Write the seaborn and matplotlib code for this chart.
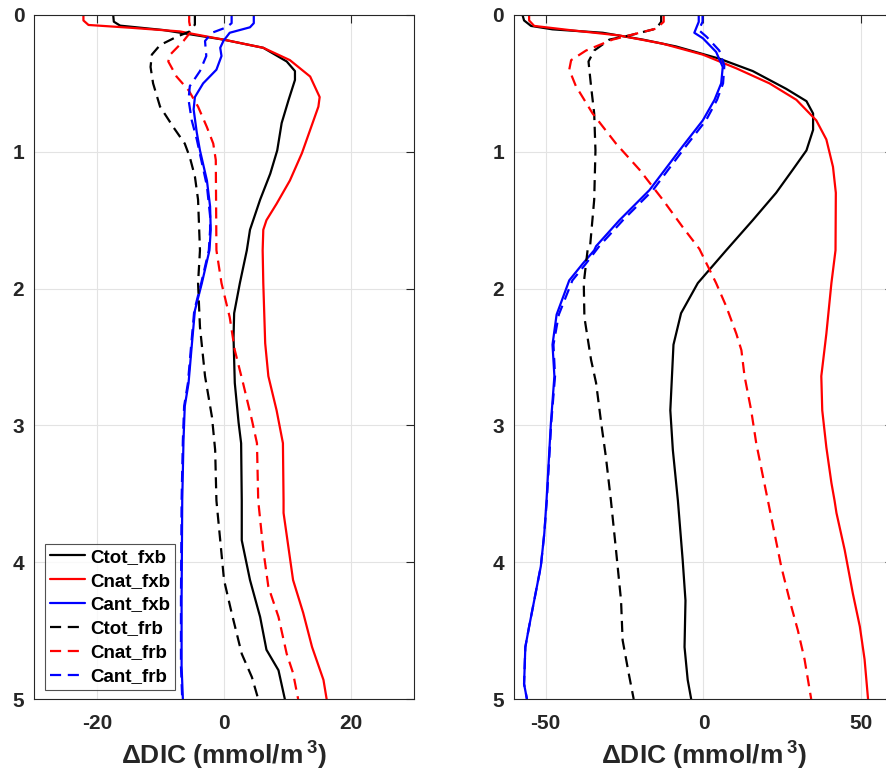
import matplotlib
matplotlib.use("Agg")
import matplotlib.pyplot as plt
import seaborn as sns
import pandas as pd

# ---------------- data (depth, ΔDIC in mmol/m^3) ----------------
series_names = ["Ctot_fxb", "Cnat_fxb", "Cant_fxb", "Ctot_frb", "Cnat_frb", "Cant_frb"]

# Left panel
L_ctot_fxb_x = [-17.5, -17.4, -16.4, -9.6, -0.1, 6.2, 9.9, 11.2, 11.2, 10.2, 9.1, 8.4, 7.3, 5.7, 4.1, 3.6, 2.5, 1.6, 1.5, 1.7, 2.3, 2.7, 2.8, 2.8, 4.1, 5.7, 6.7, 8.6, 9.6]
L_ctot_fxb_d = [0, 0.049, 0.078, 0.11, 0.18, 0.24, 0.34, 0.41, 0.475, 0.62, 0.79, 0.99, 1.16, 1.35, 1.57, 1.72, 1.96, 2.18, 2.36, 2.69, 2.98, 3.13, 3.55, 3.84, 4.13, 4.40, 4.64, 4.79, 5.0]

L_cnat_fxb_x = [-22.2, -22.2, -21.4, -14.9, -7.0, -0.1, 6.2, 10.4, 13.6, 15.1, 14.9, 13.6, 12.3, 10.4, 8.3, 6.7, 6.2, 6.1, 6.2, 6.5, 7.0, 8.3, 9.3, 9.4, 9.4, 10.9, 12.5, 13.9, 15.7, 16.2]
L_cnat_fxb_d = [0, 0.04, 0.073, 0.093, 0.12, 0.18, 0.24, 0.33, 0.45, 0.60, 0.67, 0.84, 1.01, 1.21, 1.38, 1.50, 1.57, 1.72, 1.96, 2.40, 2.64, 2.89, 3.13, 3.55, 3.64, 4.13, 4.37, 4.62, 4.86, 5.0]

L_cant_fxb_x = [4.7, 4.7, 4.1, 0.9, -0.1, -0.6, -0.4, -1.2, -3.3, -4.6, -4.8, -4.3, -3.8, -2.7, -2.2, -2.1, -2.3, -3.5, -4.6, -5.1, -5.6, -6.2, -6.4, -6.6, -6.7, -6.7, -6.5]
L_cant_fxb_d = [0, 0.06, 0.09, 0.13, 0.19, 0.24, 0.30, 0.40, 0.50, 0.60, 0.69, 0.86, 0.99, 1.21, 1.40, 1.57, 1.72, 1.96, 2.16, 2.42, 2.69, 2.86, 3.11, 3.55, 4.28, 4.76, 5.0]

L_ctot_frb_x = [-4.6, -4.6, -5.4, -7.5, -10.1, -11.4, -11.6, -11.2, -10.1, -8.0, -6.2, -5.4, -4.6, -4.1, -3.8, -4.1, -3.8, -3.0, -1.9, -1.4, -1.2, -0.6, 0.0, 1.2, 2.8, 4.4, 5.4]
L_ctot_frb_d = [0, 0.07, 0.12, 0.16, 0.22, 0.29, 0.38, 0.50, 0.67, 0.82, 0.94, 1.04, 1.18, 1.35, 1.72, 1.96, 2.28, 2.64, 2.94, 3.18, 3.55, 3.84, 4.13, 4.37, 4.67, 4.84, 5.0]

L_cnat_frb_x = [-5.5, -5.5, -5.2, -6.4, -8.5, -8.8, -7.5, -5.6, -4.1, -2.7, -1.7, -1.3, -1.2, -0.4, 0.9, 1.7, 3.0, 4.4, 5.2, 5.4, 6.2, 7.0, 8.6, 9.9, 10.9, 11.7]
L_cnat_frb_d = [0, 0.05, 0.12, 0.19, 0.29, 0.34, 0.45, 0.55, 0.67, 0.82, 0.94, 1.06, 1.72, 1.96, 2.21, 2.45, 2.69, 2.96, 3.13, 3.55, 3.91, 4.18, 4.40, 4.67, 4.81, 5.0]

L_cant_frb_x = [1.2, 1.2, 0.4, -1.9, -3.0, -2.8, -3.8, -5.4, -5.6, -5.1, -4.3, -3.5, -2.7, -2.2, -2.2, -2.4, -3.6, -4.7, -5.2, -5.7, -6.3, -6.5, -6.7, -6.8, -6.8, -6.6]
L_cant_frb_d = [0, 0.06, 0.09, 0.13, 0.19, 0.30, 0.41, 0.52, 0.62, 0.77, 0.91, 1.08, 1.25, 1.47, 1.57, 1.72, 1.96, 2.16, 2.42, 2.69, 2.86, 3.11, 3.55, 4.28, 4.76, 5.0]

# Right panel
R_ctot_fxb_x = [-57.3, -56.8, -54.6, -47.8, -31.9, -19.2, -8.7, 5.1, 15.6, 26.2, 32.6, 34.7, 34.7, 32.6, 28.3, 23.0, 15.6, 7.2, -1.8, -7.1, -9.5, -10.5, -9.7, -8.1, -6.6, -5.7, -6.0, -5.0, -3.9]
R_ctot_fxb_d = [0, 0.04, 0.08, 0.105, 0.13, 0.18, 0.23, 0.32, 0.41, 0.54, 0.63, 0.72, 0.84, 0.99, 1.13, 1.30, 1.50, 1.72, 1.96, 2.18, 2.41, 2.89, 3.18, 3.55, 3.98, 4.28, 4.62, 4.86, 5.0]

R_cnat_fxb_x = [-55.2, -55.2, -53.6, -42.5, -26.6, -12.9, -0.2, 10.4, 20.9, 29.4, 35.7, 38.9, 41.0, 41.9, 41.8, 40.5, 38.9, 37.3, 37.6, 38.9, 40.5, 41.5, 42.1, 44.7, 47.3, 49.5, 51.0, 52.1]
R_cnat_fxb_d = [0, 0.04, 0.08, 0.11, 0.15, 0.21, 0.29, 0.39, 0.50, 0.62, 0.77, 0.91, 1.11, 1.30, 1.72, 1.96, 2.33, 2.64, 2.89, 3.16, 3.42, 3.55, 3.64, 3.91, 4.23, 4.47, 4.71, 5.0]

R_cant_fxb_x = [-1.5, -1.5, -2.9, -0.2, 4.0, 6.1, 5.6, 3.5, -0.2, -6.6, -17.1, -26.6, -34.0, -34.6, -38.3, -42.5, -46.5, -47.8, -47.2, -48.3, -49.7, -50.4, -51.5, -53.6, -55.2, -56.4, -56.8, -55.9]
R_cant_fxb_d = [0, 0.05, 0.13, 0.17, 0.27, 0.38, 0.50, 0.62, 0.77, 0.96, 1.28, 1.50, 1.69, 1.72, 1.82, 1.94, 2.19, 2.41, 2.64, 2.98, 3.55, 3.79, 4.03, 4.28, 4.47, 4.62, 4.89, 5.0]

R_ctot_frb_x = [-13.4, -13.4, -15.0, -23.5, -29.8, -34.6, -36.4, -35.6, -34.6, -34.2, -34.6, -35.9, -36.7, -37.9, -37.7, -35.6, -34.0, -32.4, -30.9, -29.3, -27.7, -26.1, -25.6, -23.7, -22.1]
R_ctot_frb_d = [0, 0.05, 0.10, 0.15, 0.18, 0.26, 0.34, 0.52, 0.72, 0.99, 1.35, 1.69, 1.72, 1.96, 2.21, 2.52, 2.69, 2.98, 3.23, 3.55, 3.91, 4.28, 4.57, 4.81, 5.0]

R_cnat_frb_x = [-12.6, -12.6, -15.0, -28.8, -37.2, -41.9, -42.5, -40.4, -35.1, -27.7, -20.3, -12.9, -6.6, -1.3, 4.0, 7.2, 10.4, 12.0, 13.0, 15.1, 16.7, 18.8, 20.4, 22.5, 24.6, 27.3, 29.9, 32.0, 34.1]
R_cnat_frb_d = [0, 0.05, 0.10, 0.18, 0.26, 0.33, 0.40, 0.52, 0.72, 0.94, 1.13, 1.35, 1.55, 1.71, 1.96, 2.13, 2.33, 2.45, 2.64, 2.89, 3.13, 3.37, 3.55, 3.79, 4.03, 4.28, 4.50, 4.71, 5.0]

R_cant_frb_x = [-0.3, -0.3, -1.5, 1.0, 5.0, 6.6, 6.2, 4.3, 0.8, -5.6, -16.0, -25.5, -33.0, -37.3, -41.5, -45.8, -47.5, -47.0, -48.2, -49.6, -50.4, -51.5, -53.6, -55.2, -56.4, -56.8, -55.9]
R_cant_frb_d = [0, 0.05, 0.11, 0.16, 0.26, 0.37, 0.50, 0.62, 0.77, 0.96, 1.28, 1.50, 1.69, 1.82, 1.94, 2.19, 2.41, 2.64, 2.98, 3.55, 3.79, 4.03, 4.28, 4.47, 4.62, 4.89, 5.0]

y_ticks = [0, 1, 2, 3, 4, 5]
left_xticks = [-20, 0, 20]
right_xticks = [-50, 0, 50]
xlabel_text = "ΔDIC (mmol/m$^{\\,3}$)"

left_data = [(L_ctot_fxb_x, L_ctot_fxb_d), (L_cnat_fxb_x, L_cnat_fxb_d), (L_cant_fxb_x, L_cant_fxb_d),
             (L_ctot_frb_x, L_ctot_frb_d), (L_cnat_frb_x, L_cnat_frb_d), (L_cant_frb_x, L_cant_frb_d)]
right_data = [(R_ctot_fxb_x, R_ctot_fxb_d), (R_cnat_fxb_x, R_cnat_fxb_d), (R_cant_fxb_x, R_cant_fxb_d),
              (R_ctot_frb_x, R_ctot_frb_d), (R_cnat_frb_x, R_cnat_frb_d), (R_cant_frb_x, R_cant_frb_d)]

colors = ["#000000", "#ff0000", "#0000ff", "#000000", "#ff0000", "#0000ff"]
styles = ["-", "-", "-", (0, (5, 3)), (0, (5, 3)), (0, (5, 3))]

# ---------------- style ----------------
sns.set_style("white")
plt.rcParams["font.family"] = ["Liberation Sans", "DejaVu Sans"]
plt.rcParams["font.weight"] = "bold"
plt.rcParams["axes.unicode_minus"] = False
plt.rcParams["mathtext.fontset"] = "custom"
plt.rcParams["mathtext.rm"] = "Liberation Sans:bold"
plt.rcParams["mathtext.bf"] = "Liberation Sans:bold"
plt.rcParams["mathtext.default"] = "regular"

TXT = "#262626"
fig = plt.figure(figsize=(8.86, 7.76), dpi=100)
ax1 = fig.add_axes([0.0384, 0.0992, 0.4289, 0.8815])
ax2 = fig.add_axes([0.5801, 0.0992, 0.4278, 0.8815])


def draw(ax, data, xlim, xticks):
    for (xs, ds), name, c, ls in zip(data, series_names, colors, styles):
        df = pd.DataFrame({"dic": xs, "depth": ds})
        sns.lineplot(data=df, x="dic", y="depth", sort=False, estimator=None,
                     color=c, linestyle=ls, linewidth=1.6, label=name, ax=ax, legend=False)
    ax.set_xlim(*xlim)
    ax.set_ylim(5, 0)
    ax.set_xticks(xticks)
    ax.set_yticks(y_ticks)
    ax.grid(True, color="#e3e3e3", linewidth=0.8)
    ax.set_axisbelow(True)
    for s in ax.spines.values():
        s.set_color(TXT)
        s.set_linewidth(0.8)
        s.set_visible(True)
    ax.tick_params(direction="in", length=5.5, width=0.8, color=TXT,
                   top=True, right=True, labelsize=15, labelcolor=TXT)
    ax.tick_params(axis="x", pad=11)
    ax.tick_params(axis="y", pad=7)
    for lab in ax.get_xticklabels() + ax.get_yticklabels():
        lab.set_fontweight("bold")
    ax.set_xlabel(xlabel_text, fontsize=19, fontweight="bold", color=TXT, labelpad=5)
    ax.set_ylabel("")


draw(ax1, left_data, (-30, 30), left_xticks)
draw(ax2, right_data, (-60, 60), right_xticks)

handles = ax1.get_lines()[:6]
leg = ax1.legend(handles=handles, labels=series_names, loc="lower left",
                 bbox_to_anchor=(0.02, 0.008), prop={"weight": "bold", "size": 13.5},
                 handlelength=1.85, handletextpad=0.3, labelspacing=0.36,
                 borderpad=0.25, borderaxespad=0.2, frameon=True, fancybox=False)
leg.get_frame().set_edgecolor(TXT)
leg.get_frame().set_linewidth(0.8)
for t in leg.get_texts():
    t.set_color("#000000")

fig.savefig("out.png", dpi=100)
